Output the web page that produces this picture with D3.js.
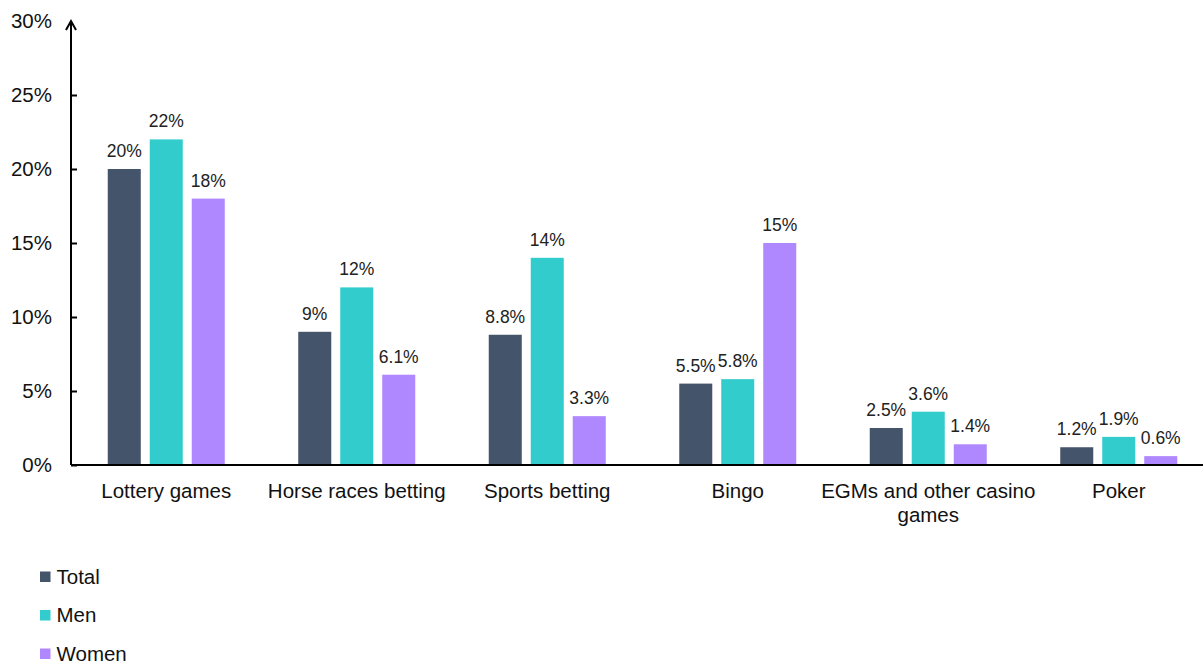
<!DOCTYPE html>
<html>
<head>
<meta charset="utf-8">
<script src="https://cdn.jsdelivr.net/npm/d3@7"></script>
<style>
  body { margin: 0; background: #fff; }
  svg { display: block; font-family: "Liberation Sans", Arial, sans-serif; }
</style>
</head>
<body>
<div id="graph-container"></div>
<script>
const w = 1203;
const h = 661;

const categories = ["Lottery games", "Horse races betting", "Sports betting", "Bingo", "EGMs and other casino games", "Poker"];
const seriesNames = ["Total", "Men", "Women"];
const total = [20, 9, 8.8, 5.5, 2.5, 1.2];
const men = [22, 12, 14, 5.8, 3.6, 1.9];
const women = [18, 6.1, 3.3, 15, 1.4, 0.6];
const valueLabels = [
  ["20%", "9%", "8.8%", "5.5%", "2.5%", "1.2%"],
  ["22%", "12%", "14%", "5.8%", "3.6%", "1.9%"],
  ["18%", "6.1%", "3.3%", "15%", "1.4%", "0.6%"]
];
const yTicks = [0, 5, 10, 15, 20, 25, 30];
const colors = ["#44546A", "#33CCCC", "#AF87FF"];

//Plot area (the category band runs a little past the right edge, as in the original)
const x0 = 71, x1 = 1214, yBase = 465, yTop = 21;
const groupSpan = 117;

const series = [total, men, women];

const svg = d3.select("#graph-container").append("svg").attr("width", w).attr("height", h);

const xScale = d3.scaleBand().domain(categories).range([x0, x1]);
const yScale = d3.scaleLinear().domain([0, 30]).range([yBase, yTop]);
const inner = d3.scaleBand().domain(seriesNames).range([0, groupSpan]).paddingInner(0.214).paddingOuter(0);

const barX = (i, s) => xScale(categories[i]) + xScale.bandwidth() / 2 - groupSpan / 2 + inner(seriesNames[s]);

//Bars
series.forEach((vals, s) => {
  const g = svg.append("g");
  g.selectAll("rect")
    .data(vals)
    .enter()
    .append("rect")
    .attr("x", (d, i) => barX(i, s))
    .attr("y", (d) => yScale(d))
    .attr("width", inner.bandwidth())
    .attr("height", (d) => yBase - yScale(d))
    .attr("fill", colors[s]);

  g.selectAll("text")
    .data(vals)
    .enter()
    .append("text")
    .attr("x", (d, i) => barX(i, s) + inner.bandwidth() / 2)
    .attr("y", (d) => yScale(d) - 12)
    .attr("text-anchor", "middle")
    .attr("font-size", 17.5)
    .attr("fill", "#222")
    .text((d, i) => valueLabels[s][i]);
});

//Y axis
const yAxis = d3.axisLeft(yScale).tickValues(yTicks).tickFormat((d) => d + "%").tickSize(-6).tickPadding(19);
const yg = svg.append("g").attr("transform", `translate(${x0}, 0)`).call(yAxis);
yg.select(".domain").remove();
yg.selectAll(".tick line").attr("stroke", "#000").attr("stroke-width", 2);
yg.selectAll(".tick text").attr("font-size", 20.5).attr("fill", "#111").attr("font-family", "Liberation Sans, Arial, sans-serif");
yg.selectAll(".tick").filter((d) => d === 30).select("line").remove();

svg.append("line")
  .attr("x1", x0).attr("x2", x0)
  .attr("y1", yBase).attr("y2", yTop)
  .attr("stroke", "#000").attr("stroke-width", 2);
svg.append("path")
  .attr("d", `M${x0 - 5},${yTop + 9} L${x0},${yTop} L${x0 + 5},${yTop + 9}`)
  .attr("fill", "none").attr("stroke", "#000").attr("stroke-width", 2);

//X axis
svg.append("line")
  .attr("x1", x0).attr("x2", w)
  .attr("y1", yBase).attr("y2", yBase)
  .attr("stroke", "#000").attr("stroke-width", 2);

const wrapMap = { "EGMs and other casino games": ["EGMs and other casino", "games"] };
categories.forEach((c) => {
  const lines = wrapMap[c] || [c];
  const cx = xScale(c) + xScale.bandwidth() / 2;
  const t = svg.append("text")
    .attr("x", cx)
    .attr("y", 498)
    .attr("text-anchor", "middle")
    .attr("font-size", 20.5)
    .attr("fill", "#111");
  lines.forEach((l, i) => {
    t.append("tspan")
      .attr("x", cx)
      .attr("dy", i === 0 ? 0 : 23.5)
      .text(l);
  });
});

//Legend
const legend = svg.append("g").attr("transform", "translate(40, 577)");
seriesNames.forEach((n, i) => {
  const row = legend.append("g").attr("transform", `translate(0, ${i * 38.5})`);
  row.append("rect").attr("x", 0).attr("y", -5.5).attr("width", 10.5).attr("height", 10.5).attr("fill", colors[i]);
  row.append("text").attr("x", 16.5).attr("y", 6.5).attr("font-size", 20.5).attr("fill", "#111").text(n);
});
</script>
</body>
</html>
